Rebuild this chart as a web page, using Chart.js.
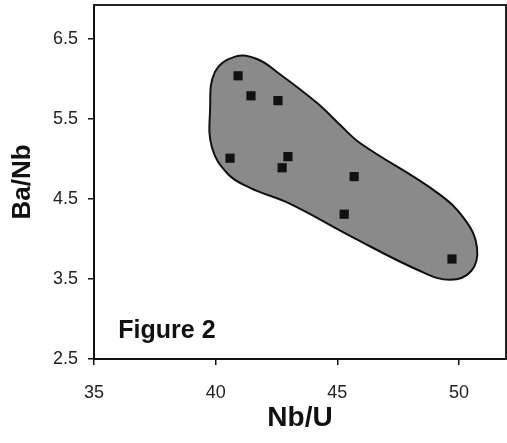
<!DOCTYPE html>
<html>
<head>
<meta charset="utf-8">
<script src="https://cdn.jsdelivr.net/npm/chart.js@4/dist/chart.umd.min.js"></script>
<style>
  html, body { margin: 0; padding: 0; background: #fff; }
  #wrap { width: 507px; height: 443px; }
</style>
</head>
<body>
<div id="wrap"><canvas id="chart" width="507" height="443"></canvas></div>
<script>
// samples (Nb/U, Ba/Nb)
const nbU  = [40.92, 41.45, 40.59, 42.56, 42.97, 42.73, 45.69, 45.28, 49.71];
const baNb = [6.04, 5.79, 5.01, 5.73, 5.03, 4.89, 4.78, 4.31, 3.75];

// outline of the shaded field, closed loop
const fieldX = [45.03, 45.93, 49.10, 50.25, 50.74, 50.50, 49.63, 48.40, 45.52, 43.06,
                41.41, 40.51, 39.85, 39.77, 39.97, 40.80, 41.70, 42.64, 44.17, 45.03];
const fieldY = [5.45, 5.20, 4.58, 4.24, 3.89, 3.60, 3.49, 3.60, 4.04, 4.44,
                4.64, 4.81, 5.14, 5.61, 6.09, 6.28, 6.25, 6.06, 5.70, 5.45];

const xTicks = [35, 40, 45, 50];
const yTicks = [2.5, 3.5, 4.5, 5.5, 6.5];

const FONT = "'Liberation Sans', Arial, sans-serif";

const figureLabel = {
  id: 'figureLabel',
  afterDraw(chart) {
    const { ctx, scales } = chart;
    ctx.save();
    ctx.font = 'bold 25px ' + FONT;
    ctx.fillStyle = '#111';
    ctx.textBaseline = 'alphabetic';
    ctx.fillText('Figure 2', scales.x.getPixelForValue(36), scales.y.getPixelForValue(2.76));
    ctx.restore();
  }
};

function noPad(s) {
  s.paddingTop = 0; s.paddingBottom = 0; s.paddingLeft = 0; s.paddingRight = 0;
}

const points = nbU.map((x, i) => ({ x, y: baNb[i] }));
const field = fieldX.map((x, i) => ({ x, y: fieldY[i] }));

new Chart(document.getElementById('chart'), {
  type: 'scatter',
  data: {
    datasets: [
      {
        data: points,
        pointStyle: 'rect',
        pointRadius: 6.5,
        backgroundColor: '#111',
        borderColor: '#111',
        borderWidth: 0,
        order: 0
      },
      {
        data: field,
        showLine: true,
        tension: 0.4,
        fill: 'shape',
        backgroundColor: '#8a8a8a',
        borderColor: '#111',
        borderWidth: 2,
        pointRadius: 0,
        order: 1
      }
    ]
  },
  options: {
    responsive: false,
    animation: false,
    layout: { autoPadding: false, padding: { left: 0, right: 1, top: 5, bottom: 0 } },
    plugins: { legend: { display: false }, tooltip: { enabled: false } },
    scales: {
      x: {
        type: 'linear',
        position: 'bottom',
        min: 35,
        max: 51.93,
        afterBuildTicks: s => { s.ticks = xTicks.map(v => ({ value: v })); },
        afterFit: s => { s.height = 84; noPad(s); },
        grid: { drawOnChartArea: false, drawTicks: true, tickLength: 6, color: '#111', lineWidth: 1.5 },
        border: { display: true, color: '#111', width: 2 },
        ticks: { color: '#222', font: { family: FONT, size: 18 }, padding: 17, callback: v => String(v) },
        title: { display: true, text: 'Nb/U', color: '#111', font: { family: FONT, size: 28, weight: 'bold' }, padding: { top: 0, bottom: 8 } }
      },
      y: {
        type: 'linear',
        position: 'left',
        min: 2.5,
        max: 6.925,
        afterBuildTicks: s => { s.ticks = yTicks.map(v => ({ value: v })); },
        afterFit: s => { s.width = 94; noPad(s); },
        grid: { drawOnChartArea: false, drawTicks: true, tickLength: 6, color: '#111', lineWidth: 1.5 },
        border: { display: true, color: '#111', width: 2 },
        ticks: { color: '#222', font: { family: FONT, size: 18 }, padding: 10, callback: v => v.toFixed(1) },
        title: { display: true, text: 'Ba/Nb', color: '#111', font: { family: FONT, size: 26, weight: 'bold' }, padding: { top: 7, bottom: 0 } }
      },
      xTop: {
        type: 'linear',
        position: 'top',
        min: 0,
        max: 1,
        afterFit: s => { s.height = 0; noPad(s); },
        grid: { display: false },
        ticks: { display: false },
        border: { display: true, color: '#222', width: 2 }
      },
      yRight: {
        type: 'linear',
        position: 'right',
        min: 0,
        max: 1,
        afterFit: s => { s.width = 0; noPad(s); },
        grid: { display: false },
        ticks: { display: false },
        border: { display: true, color: '#222', width: 2 }
      }
    }
  },
  plugins: [figureLabel]
});
</script>
</body>
</html>
